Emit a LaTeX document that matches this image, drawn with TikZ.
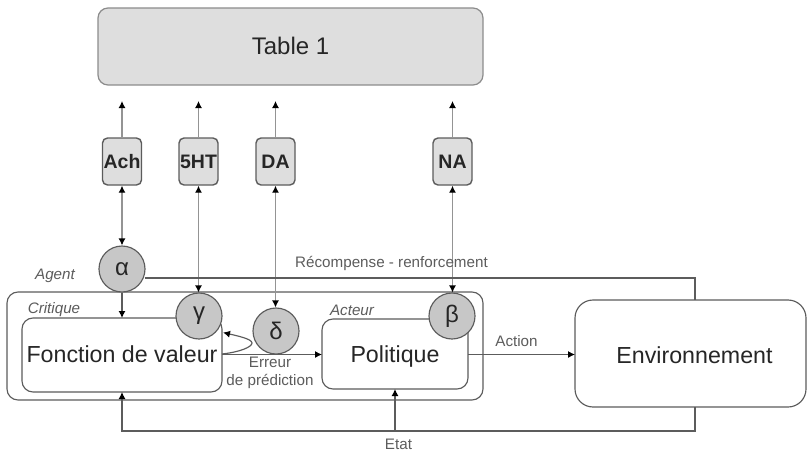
\documentclass[tikz,border=0pt]{standalone}
\usepackage{fontspec}
\setmainfont{Liberation Sans}
\usetikzlibrary{arrows.meta}
\definecolor{ln}{gray}{0.36}
\definecolor{lg}{gray}{0.58}
\definecolor{circ}{gray}{0.78}
\definecolor{tb}{gray}{0.87}
\tikzset{
 x=1pt,y=-1pt,
 line/.style={draw=ln,line width=1.15pt},
 arr/.style={line,-{Latex[length=7pt,width=7pt,black]}},
 garr/.style={draw=lg,line width=1.2pt,-{Latex[length=7pt,width=7pt,black]}},
 gbarr/.style={draw=lg,line width=1.2pt,{Latex[length=7pt,width=7pt,black]}-{Latex[length=7pt,width=7pt,black]}},
 rbox/.style={line,fill=white,rounded corners=11pt,inner sep=0pt,text=black!85,text height=20pt,text depth=6pt,font=\fontsize{23.2}{23.2}\selectfont},
 modbox/.style={draw=ln,line width=1.4pt,fill=tb,rounded corners=5pt,minimum width=39pt,minimum height=47pt,inner sep=0pt,font=\fontsize{19.5}{19.5}\selectfont\bfseries,text=black!85},
 greek/.style={circle,line,fill=circ,minimum size=46pt,inner sep=0pt,font=\fontsize{24}{24}\selectfont,text=black!85},
 lab/.style={text=ln,font=\fontsize{15.2}{18}\selectfont,inner sep=0pt,align=center},
 ilab/.style={lab,font=\fontsize{15.2}{18}\selectfont\itshape},
}
\begin{document}
\begin{tikzpicture}
\useasboundingbox (0,0) rectangle (808,452);
\node[draw=black!45,line width=1.2pt,fill=tb,rounded corners=10pt,minimum width=385pt,minimum height=77pt,inner sep=0pt,text height=25pt,text depth=8pt,font=\fontsize{24}{24}\selectfont,text=black!85] (table) at (290.5,46.5) {Table 1};
\node[rbox,minimum width=476pt,minimum height=108pt] (agent) at (245,346) {};
\node[rbox,minimum width=200pt,minimum height=74pt] (fv) at (122,355) {Fonction de valeur};
\node[rbox,minimum width=146pt,minimum height=70pt,text height=23pt] (pol) at (395,354) {Politique};
\node[rbox,rounded corners=18pt,minimum width=231pt,minimum height=107pt,text height=25pt] (env) at (690.5,353.5) {\hspace*{8pt}Environnement};
\node[modbox] (ach) at (122,161.5) {Ach};
\node[modbox] (ht) at (198.5,161.5) {5HT};
\node[modbox] (da) at (275.5,161.5) {DA};
\node[modbox] (na) at (452.5,161.5) {NA};
\node[greek] (alpha) at (122,269) {α};
\node[greek] (gamma) at (199,316) {γ};
\node[greek] (delta) at (276,331) {δ};
\node[greek] (beta) at (452,316) {β};
\coordinate (t1) at (122,101);
\coordinate (t2) at (198.5,101);
\coordinate (t3) at (275.5,101);
\coordinate (t4) at (452.5,101);
\draw[garr] (ach) -- (t1);
\draw[garr] (ht) -- (t2);
\draw[garr] (da) -- (t3);
\draw[garr] (na) -- (t4);
\draw[gbarr] (ach) -- (alpha);
\draw[gbarr] (ht) -- (ht |- gamma.north);
\draw[gbarr] (da) -- (da |- delta.north);
\draw[gbarr] (na) -- (na |- beta.north);
\draw[arr] (alpha) -- (122,318);
\draw[line] (144.5,278) -- (695,278) -- (695,300);
\draw[arr] (222,354.5) -- (322,354.5);
\draw[arr] (468,354.5) -- (575,354.5);
\draw[line,-{Latex[length=7pt,width=7pt,black]}] (222,354) .. controls (240,352) and (252,347) .. (252,343) .. controls (252,339) and (238,336) .. (223,332.5);
\draw[arr] (695,407) -- (695,431) -- (122,431) -- (122,392);
\draw[arr] (395,431) -- (395,389);
\node[lab] (rec) at (391.5,263) {Récompense - renforcement};
\node[lab] (act) at (516.5,341) {Action};
\node[lab] (err) at (270,373) {Erreur\\de prédiction};
\node[lab] (etat) at (398.5,444) {Etat};
\node[ilab] (ag) at (55,276) {Agent};
\node[ilab] (cr) at (54,310) {Critique};
\node[ilab] (ac) at (352,310) {Acteur};
\end{tikzpicture}
\end{document}
